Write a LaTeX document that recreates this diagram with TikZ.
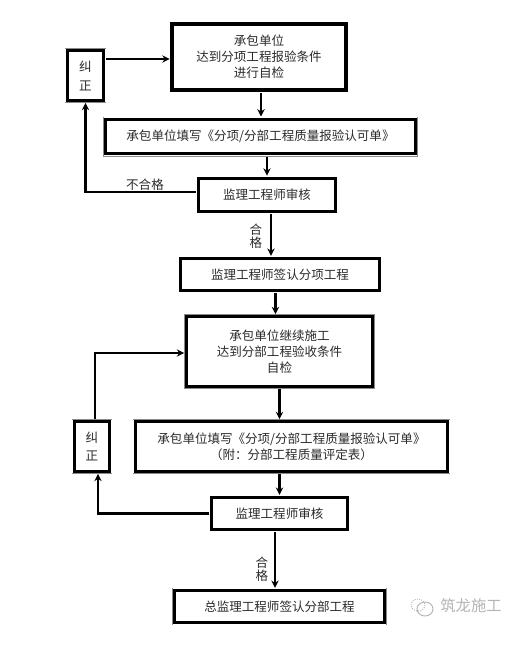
\documentclass[tikz,border=0pt]{standalone}
\usepackage{fontspec}
\setmainfont{Noto Sans CJK SC}
\usetikzlibrary{arrows.meta}
\definecolor{boxedge}{HTML}{8A8A8A}
\definecolor{inktext}{HTML}{2B2B2B}
\definecolor{marktext}{HTML}{B4B4B4}

\begin{document}
\begin{tikzpicture}[
      x=0.75pt, y=-0.75pt,
      every node/.style={font=\fontsize{9.4}{12}\selectfont, text=inktext},
      flowbox/.style={
        preaction={draw=boxedge, line width=4pt},
        preaction={draw=white, line width=3.3pt},
        draw=black, fill=white, line width=#1,
        rectangle, outer sep=2pt, inner sep=0pt, align=center},
      flowbox/.default=2.2pt,
      >={Stealth[length=5.5pt, width=5.5pt]},
      conn/.style={->, line width=1.7pt},
    ]
    \useasboundingbox (0,0) rectangle (532,647);

    \node[flowbox=2.8pt, minimum width=130pt, minimum height=50pt] (check1) at (259,57)
      {承包单位\\%
       达到分项工程报验条件\\%
       进行自检};
    \node[flowbox, minimum width=27pt, minimum height=37pt] (fix1) at (85.5,75.5)
      {纠\\[2.2pt]正};
    \node[flowbox, minimum width=232pt, minimum height=26pt] (form1) at (260.5,136.5)
      {承包单位填写《分项/分部工程质量报验认可单》};
    \node[flowbox, minimum width=103pt, minimum height=25pt] (review1) at (267,195)
      {监理工程师审核};
    \node[flowbox, minimum width=149pt, minimum height=24pt] (sign1) at (280,274.5)
      {监理工程师签认分项工程};
    \node[flowbox, minimum width=139pt, minimum height=52pt] (check2) at (279.5,351.5)
      {承包单位继续施工\\%
       达到分部工程验收条件\\%
       自检};
    \node[flowbox, minimum width=234pt, minimum height=37pt] (form2) at (291.5,446.5)
      {承包单位填写《分项/分部工程质量报验认可单》\\%
       （附：分部工程质量评定表）};
    \node[flowbox, minimum width=26pt, minimum height=37pt] (fix2) at (92,446.5)
      {纠\\[1.5pt]正};
    \node[flowbox, minimum width=102pt, minimum height=24pt] (review2) at (279.5,513.5)
      {监理工程师审核};
    \node[flowbox, minimum width=157pt, minimum height=24pt] (sign2) at (279.5,606.5)
      {总监理工程师签认分部工程};

    \draw[conn] ([xshift=1.5pt]check1.south) -- ([xshift=1.5pt]check1.south |- form1.north);
    \draw[conn] (review1.north |- form1.south) -- (review1.north);
    \draw[conn] ([xshift=3pt]review1.south) -- ([xshift=3pt]review1.south |- sign1.north);
    \draw[conn] ([xshift=-3.4pt]sign1.south) -- ([xshift=-3.4pt]sign1.south |- check2.north);
    \draw[conn] (check2.south) -- (check2.south |- form2.north);
    \draw[conn] (review2.north |- form2.south) -- (review2.north);
    \draw[conn] ([xshift=-3.4pt]review2.south) -- ([xshift=-3.4pt]review2.south |- sign2.north);

    % Return paths
    \draw[conn] (fix1.east |- 0,59) -- (check1.west |- 0,59);
    \draw[conn] ([yshift=2pt]review1.west) -| (fix1.south);
    \draw[conn] ([xshift=2.2pt]fix2.north) |- (check2.west |- 0,353);
    \draw[conn] (review2.west) -| ([xshift=4.5pt]fix2.south);

    \node (fail1) at (145,185) {不合格};
    \node[align=center, font=\fontsize{9.4}{9.8}\selectfont] (pass1) at (256,236.5) {合\\格};
    \node[align=center, font=\fontsize{9.4}{9.8}\selectfont] (pass2) at (262,569) {合\\格};

    % Watermark
    \node[text=marktext, font=\fontsize{11.5}{12}\selectfont] (mark) at (471,606) {筑龙施工};
    \draw[marktext, line width=0.7pt, densely dotted] (418,605) ellipse (7 and 6);
    \draw[marktext, line width=0.7pt] (425,609) ellipse (8 and 7);
  \end{tikzpicture}
\end{document}
